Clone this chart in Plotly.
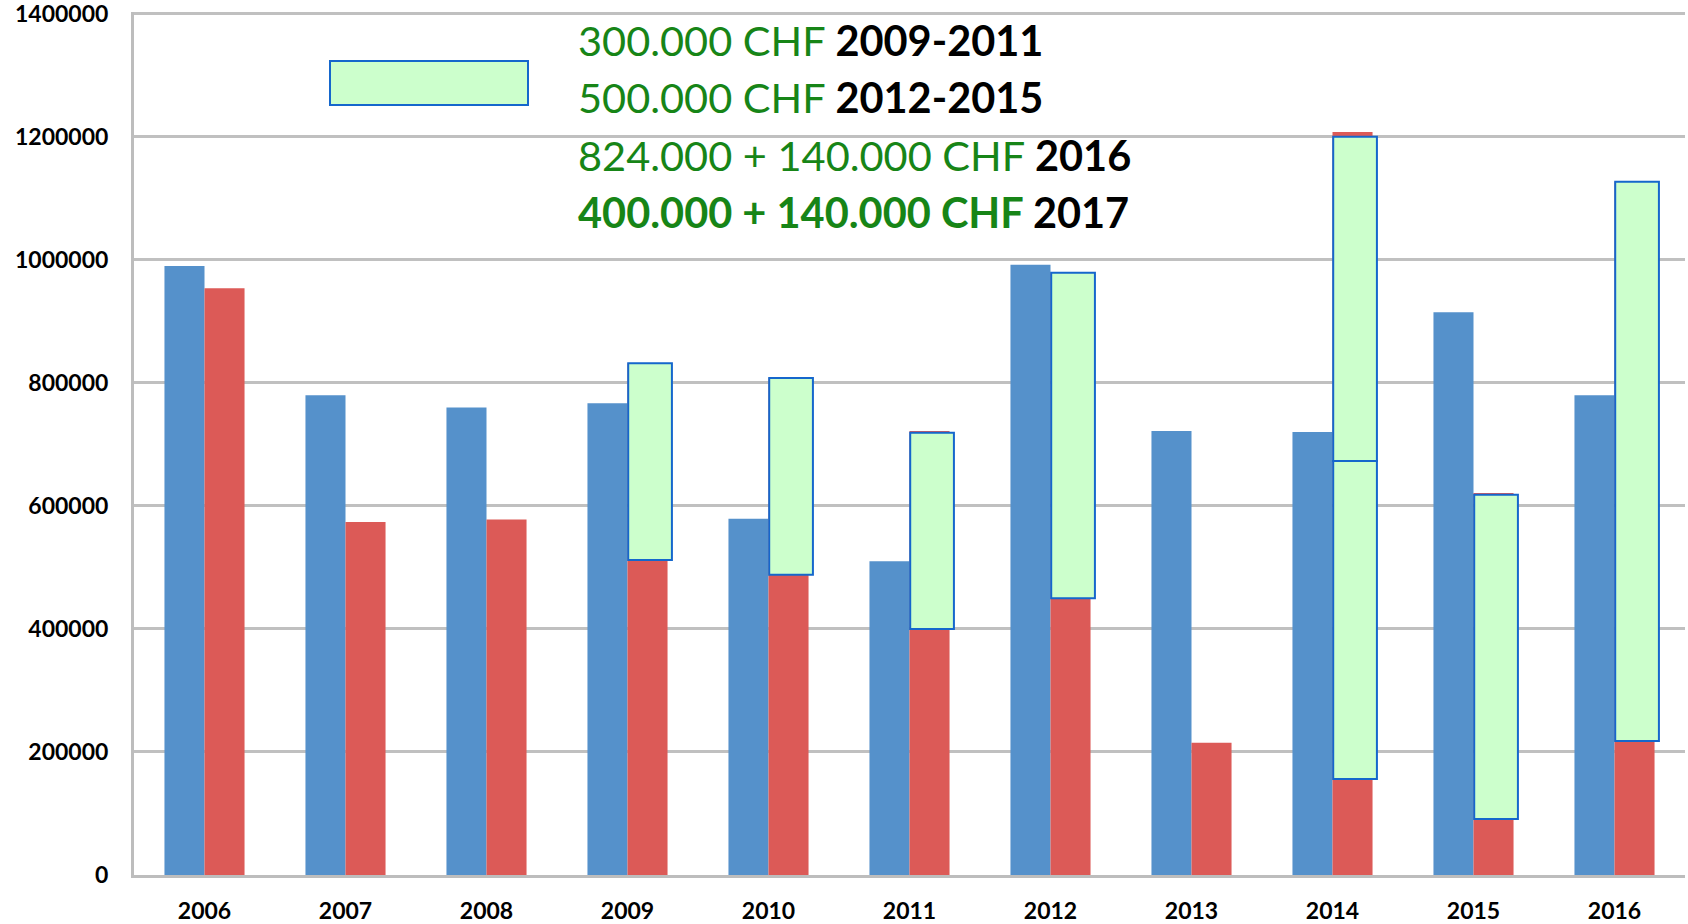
import plotly.graph_objects as go

years = ["2006", "2007", "2008", "2009", "2010", "2011", "2012", "2013", "2014", "2015", "2016"]
blue_values = [990000, 780000, 760000, 767000, 579000, 510000, 992000, 722000, 720000, 915000, 780000]
red_values = [954000, 574000, 578000, 832000, 808000, 722000, 979000, 215000, 1208000, 621000, 1127000]
green_bottom = [None, None, None, 512000, 488000, 400000, 450000, None, 156000, 91000, 218000]
green_top = [None, None, None, 832000, 808000, 719000, 979000, None, 673000, 618000, 1127000]
extra_year = ["2014"]
extra_bottom = [673000]
extra_top = [1200000]
y_ticks = [0, 200000, 400000, 600000, 800000, 1000000, 1200000, 1400000]

BLUE = "#5591cb"
RED = "#dc5a57"
GFILL = "#ccffcc"
GLINE = "#1567cc"
TXTG = "#178517"

W = 0.284
fig = go.Figure()
fig.add_trace(go.Bar(x=years, y=blue_values, width=W, offset=-W,
                     marker=dict(color=BLUE, line=dict(width=0)), name="blue"))
fig.add_trace(go.Bar(x=years, y=red_values, width=W, offset=0,
                     marker=dict(color=RED, line=dict(width=0)), name="red"))
gh = [None if b is None else t - b for b, t in zip(green_bottom, green_top)]
fig.add_trace(go.Bar(x=years, y=gh, base=green_bottom, width=0.31, offset=0.005,
                     marker=dict(color=GFILL, line=dict(color=GLINE, width=2)), name="green"))
eh = [t - b for b, t in zip(extra_bottom, extra_top)]
fig.add_trace(go.Bar(x=extra_year, y=eh, base=extra_bottom, width=0.31, offset=0.005,
                     marker=dict(color=GFILL, line=dict(color=GLINE, width=2)), name="green2"))

L, R, T, B = 134, 3, 12, 49
PW = 1688 - L - R
PH = 924 - T - B
YMAX = 1403000
fig.update_layout(
    width=1688, height=924,
    margin=dict(l=L, r=R, t=T, b=B, autoexpand=False),
    barmode="overlay",
    showlegend=False,
    plot_bgcolor="white", paper_bgcolor="white",
    xaxis=dict(type="category", range=[-0.5, 10.5], showgrid=False,
               showline=True, linecolor="#bdbdbd", linewidth=3,
               tickfont=dict(family="Lato", size=23, color="black", weight="bold"),
               ticks="", ticklabelstandoff=13, automargin=False,
               ticklabeloverflow="allow"),
    yaxis=dict(range=[0, YMAX], tickvals=y_ticks,
               ticktext=[str(v) for v in y_ticks],
               showgrid=True, gridcolor="#c0c0c0", gridwidth=3,
               showline=True, linecolor="#bdbdbd", linewidth=3,
               zeroline=False,
               tickfont=dict(family="Lato", size=23, color="black", weight="bold"),
               ticks="", ticklabelstandoff=18, automargin=False,
               ticklabeloverflow="allow"),
)


def px_to_paper_x(px):
    return (px - L) / PW


def px_to_paper_y(py):
    return (924 - B - py) / PH


# legend-like box
fig.add_shape(type="rect", xref="paper", yref="paper",
              x0=px_to_paper_x(330), x1=px_to_paper_x(528),
              y0=px_to_paper_y(105), y1=px_to_paper_y(61),
              fillcolor=GFILL, line=dict(color=GLINE, width=2))

lines = [
    f'<span style="color:{TXTG}">300.000 CHF </span><b>2009-2011</b>',
    f'<span style="color:{TXTG}">500.000 CHF </span><b>2012-2015</b>',
    f'<span style="color:{TXTG}">824.000 + 140.000 CHF </span><b>2016</b>',
    f'<b><span style="color:{TXTG}">400.000 + 140.000 CHF</span> 2017</b>',
]
centers = [40, 97, 155, 212]
for txt, cy in zip(lines, centers):
    fig.add_annotation(text=txt, xref="paper", yref="paper",
                       x=px_to_paper_x(576), y=px_to_paper_y(cy),
                       xanchor="left", yanchor="middle", showarrow=False,
                       font=dict(family="Lato", size=41.5, color="black"))

fig.write_html("out.html", config={"displayModeBar": False},
               post_script="document.body.style.margin='0';")
